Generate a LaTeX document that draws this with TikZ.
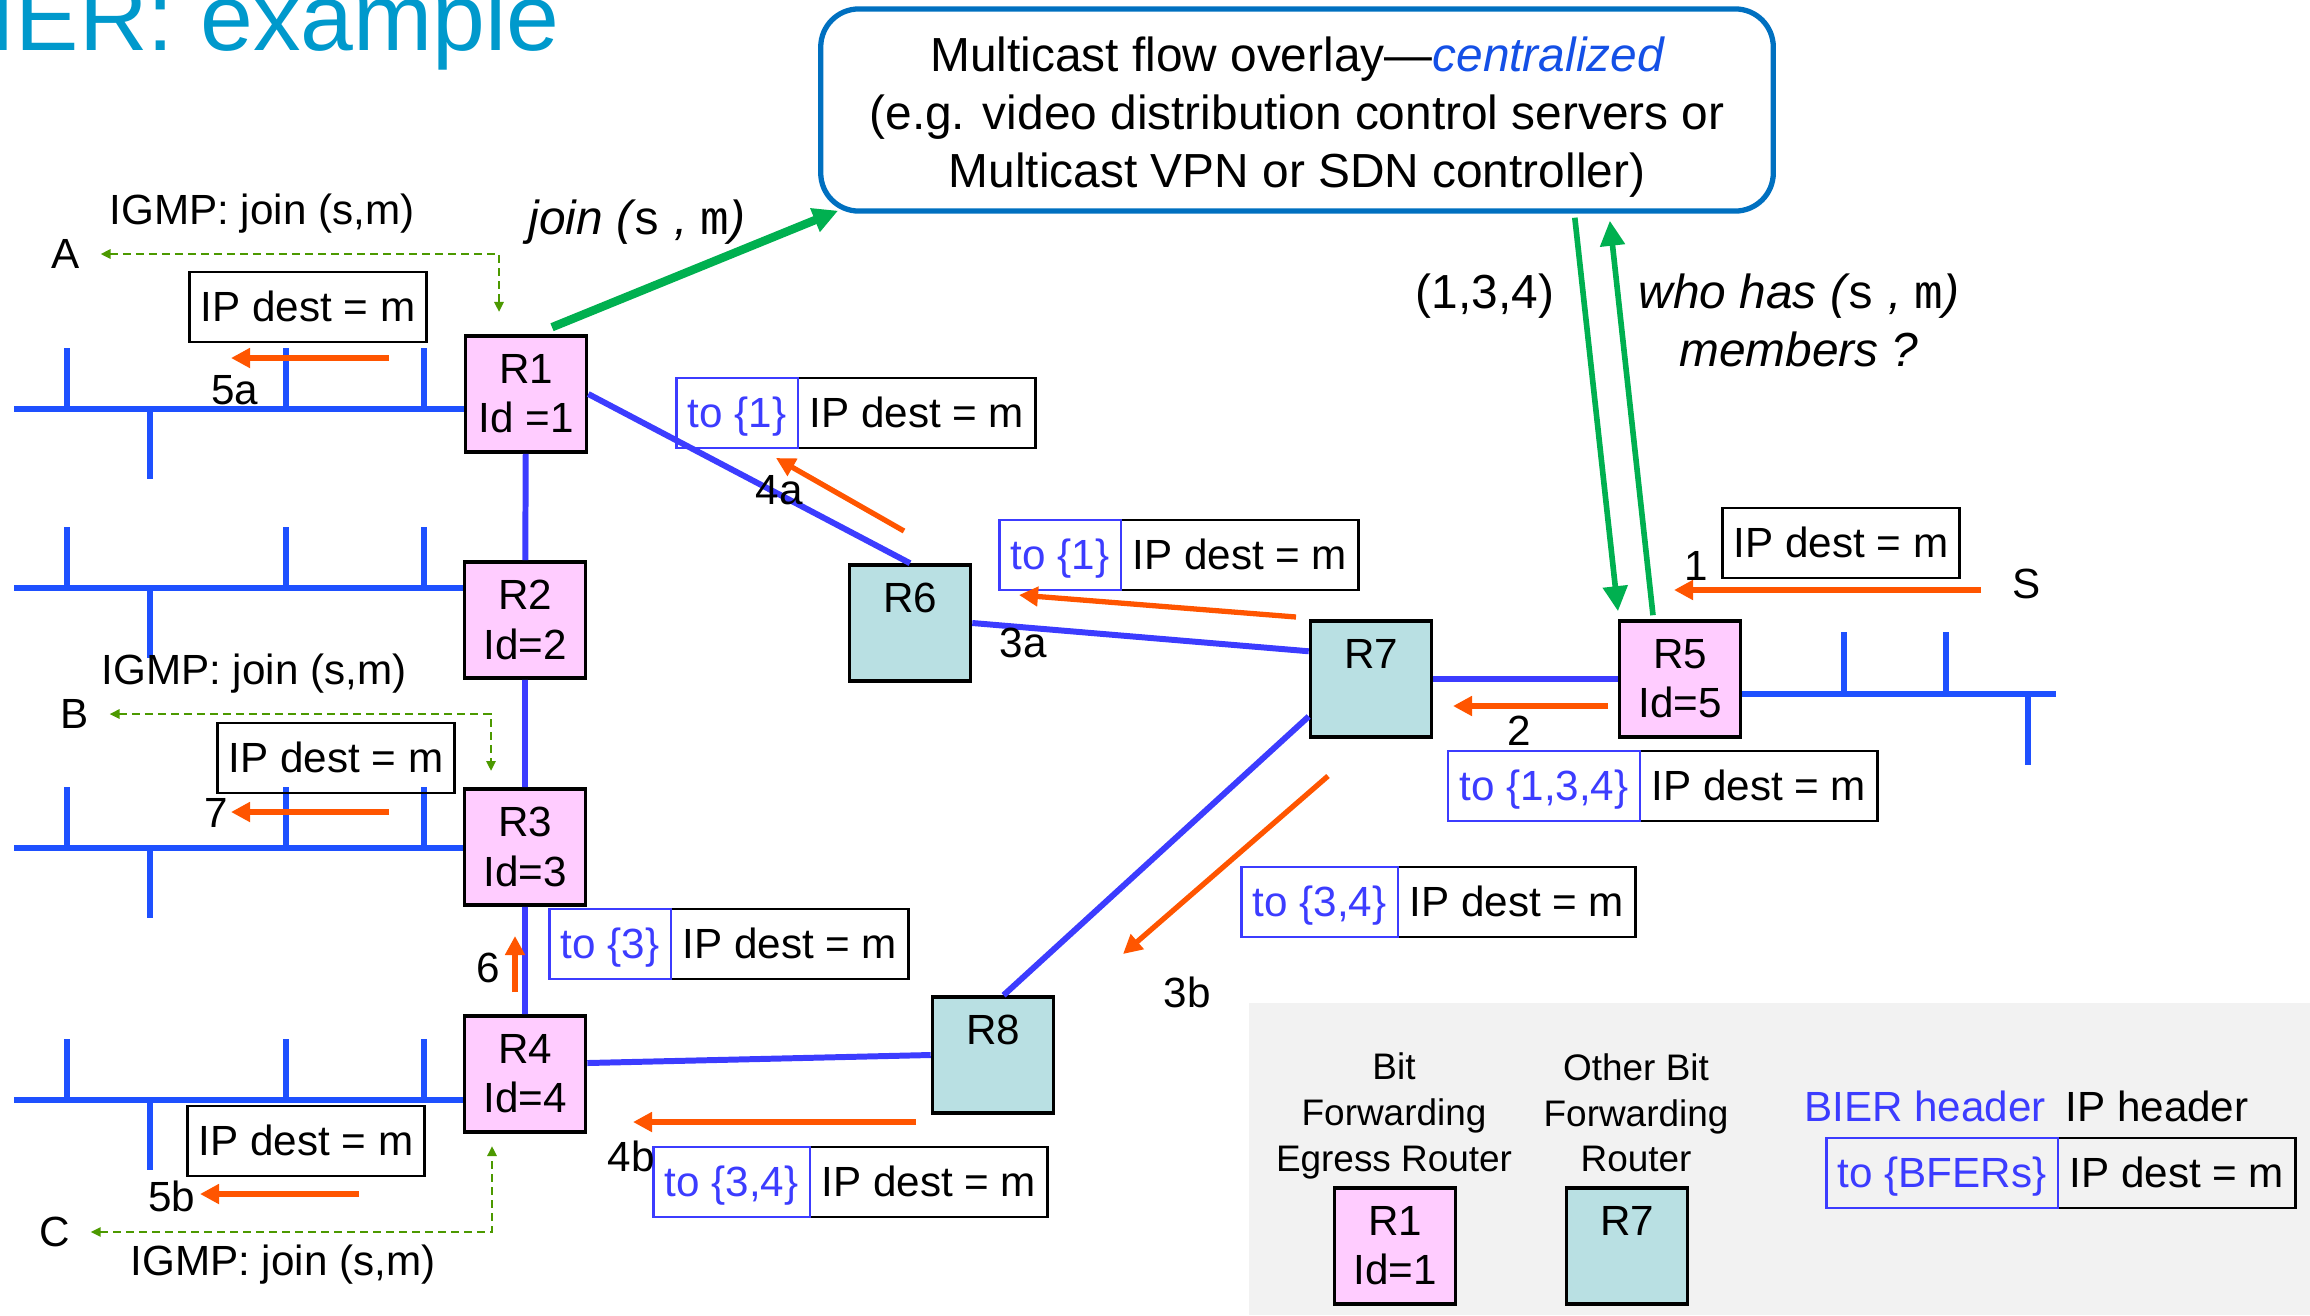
\documentclass[tikz,border=0pt]{standalone}
\usepackage{fontspec}
\setmainfont{Liberation Sans}
\setmonofont{Liberation Mono}
\usetikzlibrary{arrows.meta,positioning}
\definecolor{bferpink}{RGB}{255,204,255}
\definecolor{bfrteal}{RGB}{185,224,227}
\definecolor{linkblue}{RGB}{60,60,255}
\definecolor{lanblue}{RGB}{30,80,255}
\definecolor{hdrblue}{RGB}{60,60,255}
\definecolor{flowred}{RGB}{255,85,0}
\definecolor{ctrlgreen}{RGB}{0,176,80}
\definecolor{igmpgreen}{RGB}{76,153,0}
\definecolor{ovlblue}{RGB}{0,112,192}
\definecolor{titleblue}{RGB}{0,153,204}
\definecolor{centblue}{RGB}{20,80,230}
\tikzset{
  every node/.style={font=\fontsize{12}{14}\selectfont},
  bferbox/.style={draw=black,line width=1pt,fill=bferpink,minimum width=1.21cm,minimum height=1.16cm,align=center,inner sep=0pt},
  bfrbox/.style={bferbox,fill=bfrteal},
  ipd/.style={draw=black,line width=0.8pt,minimum height=0.7cm,text height=0.35cm,text depth=0.06cm,inner xsep=0.115cm,inner ysep=0pt,outer sep=0pt},
  hdr/.style={ipd,draw=hdrblue,text=hdrblue},
  link/.style={linkblue,line width=1.7pt},
  lan/.style={lanblue,line width=1.5pt},
  flow/.style={-{Triangle[length=0.19cm,width=0.19cm]},flowred,line width=1.5pt},
  ctrl/.style={-{Triangle[length=0.25cm,width=0.24cm]},ctrlgreen,line width=1.6pt},
  igmp/.style={{Triangle[length=0.1cm,width=0.09cm]}-{Triangle[length=0.1cm,width=0.09cm]},igmpgreen,line width=0.8pt,dash pattern=on 0.08cm off 0.05cm},
  big/.style={font=\fontsize{13.6}{16.5}\selectfont}
}

\begin{document}
\begin{tikzpicture}[x=0.01cm,y=-0.01cm]
\useasboundingbox (0,0) rectangle (2310,1315);
\fill[black!5] (1249,1003) rectangle (2310,1315);

\node[font=\fontsize{27}{30}\selectfont,text=titleblue,anchor=base east,inner sep=0pt] (title) at (560,50) {BIER: example};

\node[draw=ovlblue,line width=1.5pt,rounded corners=0.38cm,minimum width=9.52cm,minimum height=2.02cm] (ovl) at (1297,110) {};
\node[big,align=center] (ovltext) at (1297,117)
  {Multicast flow overlay---\textcolor{centblue}{\itshape centralized}\\(e.g. video distribution control servers or\\Multicast VPN or SDN controller)};

\node[bferbox] (R1) at (526,394) {R1\\Id =1};
\node[bferbox] (R2) at (525,620) {R2\\Id=2};
\node[bferbox] (R3) at (525,847) {R3\\Id=3};
\node[bferbox] (R4) at (525,1074) {R4\\Id=4};
\node[bferbox] (R5) at (1680,679) {R5\\Id=5};
\node[bfrbox] (R6) at (910,623) {R6\\\phantom{Id}};
\node[bfrbox] (R7) at (1371,679) {R7\\\phantom{Id}};
\node[bfrbox] (R8) at (993,1055) {R8\\\phantom{Id}};

\draw[link] (R1) -- (R2) (R2) -- (R3) (R3) -- (R4);
\draw[link] (R1.east) -- (R6.north);
\draw[link] (R6.east) -- (R7.156);
\draw[link] (R7.211) -- (R8.80);
\draw[link] (R7) -- (R5);
\draw[link] (R4.10) -- (R8.west);

\foreach \r/\y in {R1/409,R2/588,R3/848,R4/1100} {
  \draw[lan] (14,\y) -- (\r.west |- 0,\y);
  \draw[lan] (67,\y) -- ++(0,-61) (286,\y) -- ++(0,-61) (424,\y) -- ++(0,-61) (150,\y) -- ++(0,70);
}
\draw[lan] (R5.east |- 0,694) -- (2056,694);
\draw[lan] (1844,694) -- ++(0,-62) (1946,694) -- ++(0,-62) (2028,694) -- ++(0,71);

\node[ipd] (ipA) at (308,307) {IP dest = m};
\node[ipd] (ipB) at (336,758) {IP dest = m};
\node[ipd] (ipC) at (306,1141) {IP dest = m};
\node[ipd] (ipS) at (1841,543) {IP dest = m};

\node[ipd,anchor=north west] (ip1) at (798,378) {IP dest = m};
\node[hdr,left=0pt of ip1] (to1) {to \{1\}};
\node[ipd,anchor=north west] (ip3a) at (1121,520) {IP dest = m};
\node[hdr,left=0pt of ip3a] (to3a) {to \{1\}};
\node[ipd,anchor=north west] (ip2) at (1640,751) {IP dest = m};
\node[hdr,left=0pt of ip2] (to2) {to \{1,3,4\}};
\node[ipd,anchor=north west] (ip3b) at (1398,867) {IP dest = m};
\node[hdr,left=0pt of ip3b] (to3b) {to \{3,4\}};
\node[ipd,anchor=north west] (ip6) at (671,909) {IP dest = m};
\node[hdr,left=0pt of ip6] (to6) {to \{3\}};
\node[ipd,anchor=north west] (ip4b) at (810,1147) {IP dest = m};
\node[hdr,left=0pt of ip4b] (to4b) {to \{3,4\}};

\node (A) at (66,254) {A};
\node (B) at (75,714) {B};
\node (C) at (55,1232) {C};
\node (S) at (2027,584) {S};
\coordinate (jA) at (499,312);
\coordinate (jB) at (491,771);
\coordinate (jC) at (492,1146);
\draw[igmp,shorten <=0.08cm] (A) -| (jA);
\draw[igmp,shorten <=0.08cm] (B) -| (jB);
\draw[igmp,shorten <=0.08cm] (C) -| (jC);
\node (igA) at (262,214) {IGMP: join (s,m)};
\node (igB) at (254,674) {IGMP: join (s,m)};
\node (igC) at (283,1265) {IGMP: join (s,m)};

\path (1981,590) coordinate (s-1) (1674,590) coordinate (e-1)
      (1608,706) coordinate (s-2) (1453,706) coordinate (e-2)
      (1296,617) coordinate (s-3a) (1019,595) coordinate (e-3a)
      (1328,776) coordinate (s-3b) (1123,954) coordinate (e-3b)
      (904,531) coordinate (s-4a) (776,458) coordinate (e-4a)
      (916,1122) coordinate (s-4b) (633,1122) coordinate (e-4b)
      (389,358) coordinate (s-5a) (231,358) coordinate (e-5a)
      (359,1194) coordinate (s-5b) (200,1194) coordinate (e-5b)
      (515,992) coordinate (s-6) (515,936) coordinate (e-6)
      (389,812) coordinate (s-7) (231,812) coordinate (e-7);
\foreach \f/\p in {1/{1696,566},2/{1519,731},3a/{1023,643},3b/{1187,992},4a/{779,490},4b/{631,1156},5a/{235,390},5b/{172,1196},6/{488,968},7/{216,813}} {
  \draw[flow] (s-\f) -- (e-\f);
  \node (n-\f) at (\p) {\f};
}

\draw[ctrl,line width=2.4pt] ([xshift=0.26cm,yshift=0.07cm]R1.north) -- ([xshift=0.2cm,yshift=0.03cm]ovl.south west);
\draw[ctrl] ([xshift=-2.01cm,yshift=-0.04cm]ovl.south east) -- ([xshift=-0.62cm,yshift=0.08cm]R5.north);
\draw[ctrl] ([xshift=-0.27cm,yshift=0.04cm]R5.north) -- ([xshift=-1.66cm,yshift=-0.07cm]ovl.south east);
\node[font=\fontsize{13.6}{16.5}\selectfont\itshape] (join) at (637,222) {join (\texttt{\upshape s} , \texttt{\upshape m})};
\node[big] (sel) at (1485,296) {(1,3,4)};
\node[font=\fontsize{13.6}{16.5}\selectfont\itshape,align=center] (who) at (1799,320) {who has (\texttt{\upshape s} , \texttt{\upshape m})\\members ?};

\node[font=\fontsize{10.5}{13}\selectfont,align=center] (lBfer) at (1394,1116) {Bit\\Forwarding\\Egress Router};
\node[font=\fontsize{10.5}{13}\selectfont,align=center] (lBfr) at (1636,1113) {Other Bit\\Forwarding\\Router};
\node[bferbox] (lR1) at (1395,1246) {R1\\Id=1};
\node[bfrbox] (lR7) at (1627,1246) {R7\\\phantom{Id}};
\node[text=hdrblue] (lBier) at (1925,1106) {BIER header};
\node (lIp) at (2157,1106) {IP header};
\node[ipd,anchor=north west] (lIpd) at (2058,1138) {IP dest = m};
\node[hdr,left=0pt of lIpd] (lTo) {to \{BFERs\}};
\end{tikzpicture}
\end{document}
